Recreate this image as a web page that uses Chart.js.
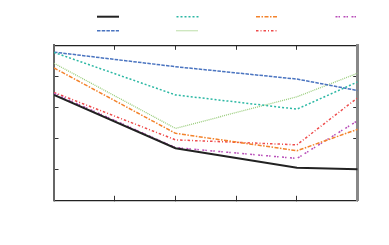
<!DOCTYPE html>
<html>
<head>
<meta charset="utf-8">
<script src="https://cdn.jsdelivr.net/npm/chart.js@4/dist/chart.umd.min.js"></script>
<style>
  html, body { margin: 0; padding: 0; background: #fff; overflow: hidden; }
  canvas { display: block; }
</style>
</head>
<body>
<canvas id="chart" width="389" height="245"></canvas>
<script>
// x positions of the samples and the tick marks
const xValues = [0, 2, 4, 5];
const xTicks = [0, 1, 2, 3, 4, 5];
const yTicks = [0, 1, 2, 3, 4, 5];

// series values (legend order, row by row)
const blackSeries  = [3.40, 1.68, 1.05, 1.00];
const tealSeries   = [4.77, 3.40, 2.94, 3.82];
const orangeSeries = [4.27, 2.16, 1.60, 2.29];
const purpleSeries = [3.45, 1.70, 1.35, 2.57];
const blueSeries   = [4.78, 4.31, 3.91, 3.54];
const greenSeries  = [4.42, 2.32, 3.34, 4.10];
const redSeries    = [3.48, 1.95, 1.79, 3.31];

// styles kept apart from the data
const styles = [
    { data: blackSeries,  color: '#222222', width: 2,   dash: [] },
    { data: tealSeries,   color: '#2cb8a4', width: 1.5, dash: [2, 2] },
    { data: orangeSeries, color: '#f3832c', width: 1.5, dash: [4, 1.5, 1.5, 1.5] },
    { data: purpleSeries, color: '#b84cb8', width: 1.5, dash: [2, 1, 1.5, 3.5] },
    { data: blueSeries,   color: '#4a74c0', width: 1.5, dash: [3.5, 1.2] },
    { data: greenSeries,  color: '#98cc7a', width: 1.3, dash: [1, 1] },
    { data: redSeries,    color: '#ee4c4c', width: 1.5, dash: [2.5, 2, 1, 2] }
];

const datasets = styles.map(s => ({
    data: s.data.map((v, i) => ({ x: xValues[i], y: v })),
    borderColor: s.color,
    backgroundColor: s.color,
    borderWidth: s.width,
    borderDash: s.dash,
    pointRadius: 0,
    tension: 0,
    fill: false
}));

// legend: short line samples in 4 columns, no text
const LEGEND_LEFT = 97;
const LEGEND_TOP = 16.7;
const LEGEND_COL = 79.5;
const LEGEND_ROW = 14;
const LEGEND_LEN = 22;

const lineLegend = {
    id: 'lineLegend',
    afterDraw(chart) {
        const ctx = chart.ctx;
        chart.data.datasets.forEach((ds, i) => {
            const x = LEGEND_LEFT + (i % 4) * LEGEND_COL;
            const y = LEGEND_TOP + Math.floor(i / 4) * LEGEND_ROW;
            ctx.save();
            ctx.strokeStyle = ds.borderColor;
            ctx.lineWidth = ds.borderWidth;
            ctx.setLineDash(ds.borderDash);
            ctx.beginPath();
            ctx.moveTo(x, y);
            ctx.lineTo(x + LEGEND_LEN, y);
            ctx.stroke();
            ctx.restore();
        });
    }
};

// axis with inward ticks and no labels
function frameAxis(position, values, border) {
    const horizontal = position === 'top' || position === 'bottom';
    return {
        type: 'linear',
        position: position,
        min: values[0],
        max: values[values.length - 1],
        afterBuildTicks: scale => { scale.ticks = values.map(v => ({ value: v })); },
        afterFit: scale => { if (horizontal) scale.height = 0; else scale.width = 0; },
        ticks: { display: false },
        grid: { drawOnChartArea: false, drawTicks: true, tickLength: -4.5, color: '#333', lineWidth: 1 },
        border: border
    };
}

new Chart(document.getElementById('chart'), {
    type: 'line',
    data: { datasets: datasets },
    options: {
        responsive: false,
        animation: false,
        devicePixelRatio: 1,
        layout: { padding: { left: 54, right: 31.3, top: 45.3, bottom: 44.7 } },
        plugins: { legend: { display: false }, tooltip: { enabled: false } },
        scales: {
            x:  frameAxis('bottom', xTicks, { color: '#222', width: 1.3 }),
            x2: frameAxis('top',    xTicks, { color: '#222', width: 1.3 }),
            y:  frameAxis('left',   yTicks, { color: '#666', width: 2 }),
            y2: frameAxis('right',  yTicks, { color: '#888', width: 3 })
        }
    },
    plugins: [lineLegend]
});
</script>
</body>
</html>
